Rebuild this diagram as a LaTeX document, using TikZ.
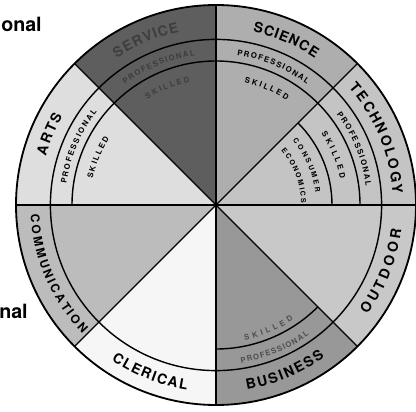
\documentclass[tikz,border=0pt]{standalone}
\usepackage{fontspec}
\usetikzlibrary{decorations.text}

\newfontfamily\wheelfont{TeX Gyre Heros}
\newcommand\wheelbig{\wheelfont\bfseries\fontsize{10}{12}\selectfont}
\newcommand\wheelmid{\wheelfont\bfseries\fontsize{8.5}{10}\selectfont}
\newcommand\wheelsmall{\wheelfont\bfseries\fontsize{5.5}{7}\selectfont}
\newcommand\wheeltiny{\wheelfont\bfseries\fontsize{5}{6}\selectfont}
\newcommand\sidefont{\wheelfont\bfseries\fontsize{14}{16}\selectfont}

\definecolor{sciencefill}{RGB}{174,174,174}
\definecolor{servicefill}{RGB}{94,94,94}
\definecolor{artsfill}{RGB}{222,222,222}
\definecolor{commfill}{RGB}{188,188,188}
\definecolor{clericalfill}{RGB}{246,246,246}
\definecolor{businessfill}{RGB}{152,152,152}
\definecolor{outdoorfill}{RGB}{200,200,200}
\definecolor{techfill}{RGB}{196,196,196}
\definecolor{servicetext}{RGB}{62,62,62}
\definecolor{fainttext}{RGB}{80,80,80}

\tikzset{
  ring/.style={line width=1pt},
  bandtext/.style 2 args={decorate, decoration={text along path,
      text align=fit to path, text={|#1|#2}}},
}

\begin{document}
\begin{tikzpicture}
  \useasboundingbox (-5.4,-5.15) rectangle (5.0,5.125);
  \coordinate (hub) at (0,0);

  % sector fills
  \fill[techfill] (hub) -- (0:5) arc[start angle=0, end angle=45, radius=5] -- cycle;
  \fill[sciencefill] (hub) -- (45:5) arc[start angle=45, end angle=90, radius=5] -- cycle;
  \fill[servicefill] (hub) -- (90:5) arc[start angle=90, end angle=135, radius=5] -- cycle;
  \fill[artsfill] (hub) -- (135:5) arc[start angle=135, end angle=180, radius=5] -- cycle;
  \fill[commfill] (hub) -- (180:5) arc[start angle=180, end angle=225, radius=5] -- cycle;
  \fill[clericalfill] (hub) -- (225:5) arc[start angle=225, end angle=270, radius=5] -- cycle;
  \fill[businessfill] (hub) -- (270:5) arc[start angle=270, end angle=315, radius=5] -- cycle;
  \fill[outdoorfill] (hub) -- (315:5) arc[start angle=315, end angle=360, radius=5] -- cycle;

  % rings and spokes
  \draw[line width=1.3pt] (hub) circle[radius=5];
  \draw[ring] (hub) circle[radius=4.14];
  \draw[ring] (0:3.6) arc[start angle=0, end angle=180, radius=3.6];
  \draw[ring] (270:3.6) arc[start angle=270, end angle=315, radius=3.6];
  \draw[ring] (0:2.9) arc[start angle=0, end angle=45, radius=2.9];
  \foreach \a in {0,45,...,315}
    \draw[ring] (hub) -- (\a:5);

  % upper half labels
  \path[bandtext={\wheelbig}{SCIENCE}] (78:4.425) arc[start angle=78, end angle=56, radius=4.425];
  \path[bandtext={\wheelsmall}{PROFESSIONAL}] (82:3.775) arc[start angle=82, end angle=53, radius=3.775];
  \path[bandtext={\wheelsmall}{SKILLED}] (77:3.15) arc[start angle=77, end angle=56, radius=3.15];

  \path[bandtext={\wheelbig}{SERVICE}, decoration={text color=servicetext}] (124:4.425) arc[start angle=124, end angle=102, radius=4.425];
  \path[bandtext={\wheelsmall}{PROFESSIONAL}, decoration={text color=servicetext}] (127:3.775) arc[start angle=127, end angle=98, radius=3.775];
  \path[bandtext={\wheelsmall}{SKILLED}, decoration={text color=servicetext}] (123:3.15) arc[start angle=123, end angle=102, radius=3.15];

  \path[bandtext={\wheelbig}{ARTS}] (164:4.425) arc[start angle=164, end angle=150, radius=4.425];
  \path[bandtext={\wheelsmall}{PROFESSIONAL}] (172:3.775) arc[start angle=172, end angle=142, radius=3.775];
  \path[bandtext={\wheelsmall}{SKILLED}] (168:3.15) arc[start angle=168, end angle=148, radius=3.15];

  \path[bandtext={\wheelbig}{TECHNOLOGY}] (41.5:4.425) arc[start angle=41.5, end angle=3.5, radius=4.425];
  \path[bandtext={\wheelsmall}{PROFESSIONAL}] (37:3.775) arc[start angle=37, end angle=7, radius=3.775];
  \path[bandtext={\wheelsmall}{SKILLED}] (34:3.175) arc[start angle=34, end angle=12, radius=3.175];
  \path[bandtext={\wheeltiny}{CONSUMER}] (40:2.5) arc[start angle=40, end angle=7, radius=2.5];
  \path[bandtext={\wheeltiny}{ECONOMICS}] (40:2.125) arc[start angle=40, end angle=1, radius=2.125];

  % lower half labels
  \path[bandtext={\wheelmid}{COMMUNICATION}] (183:4.64) arc[start angle=183, end angle=224, radius=4.64];
  \path[bandtext={\wheelbig}{CLERICAL}] (236:4.675) arc[start angle=236, end angle=261, radius=4.675];
  \path[bandtext={\wheelbig}{BUSINESS}] (279.5:4.675) arc[start angle=279.5, end angle=305.5, radius=4.675];
  \path[bandtext={\wheelsmall}{PROFESSIONAL}, decoration={text color=fainttext}] (279:4.0) arc[start angle=279, end angle=305.5, radius=4.0];
  \path[bandtext={\wheelsmall}{SKILLED}, decoration={text color=fainttext}] (282:3.46) arc[start angle=282, end angle=304, radius=3.46];
  \path[bandtext={\wheelbig}{OUTDOOR}] (324:4.675) arc[start angle=324, end angle=352.5, radius=4.675];

  % cut-off side words
  \node[anchor=base east, inner sep=0pt, font=\sidefont] (onal) at (-4.35,4.325) {onal};
  \node[anchor=base east, inner sep=0pt, font=\sidefont] (nal) at (-4.7,-2.825) {nal};
\end{tikzpicture}
\end{document}
